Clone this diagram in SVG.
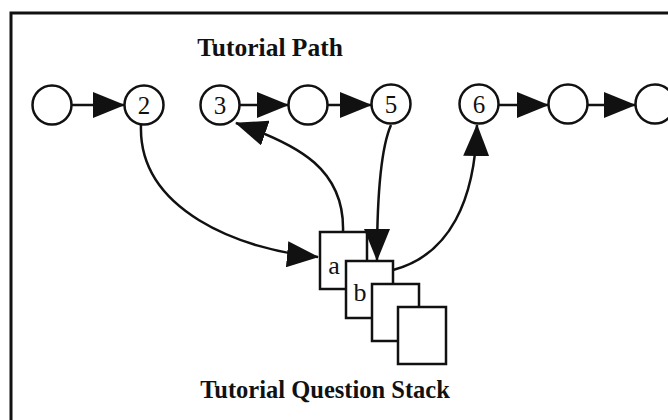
<svg xmlns="http://www.w3.org/2000/svg" width="668" height="420" viewBox="0 0 668 420">
<style>
.n{fill:#fff;stroke:#111;stroke-width:2.5}
.b{fill:#fff;stroke:#111;stroke-width:2.5}
.c{fill:none;stroke:#111;stroke-width:2.5}
.t{font-family:"Liberation Serif","Times New Roman",serif;fill:#111;text-anchor:middle}
.num{font-size:25px}
.lbl{font-size:26px}
.title{font-weight:bold}
</style>
<defs>
<marker id="ah" markerUnits="userSpaceOnUse" markerWidth="32" markerHeight="26" refX="31" refY="13" orient="auto">
<path d="M0,0 L32,13 L0,26 z" fill="#111"/>
</marker>
</defs>
<rect x="0" y="0" width="668" height="420" fill="#fff"/>
<rect x="11" y="13" width="720" height="420" fill="none" stroke="#111" stroke-width="3"/>
<text class="t title" x="270" y="56" font-size="25.5">Tutorial Path</text>
<text class="t title" x="325" y="398" font-size="24.5">Tutorial Question Stack</text>

<g id="carda"><rect class="b" x="320" y="232" width="47" height="57"/><text class="t lbl" x="334" y="274">a</text></g>
<g id="cardb"><rect class="b" x="346" y="261" width="47" height="57"/><text class="t lbl" x="360" y="301">b</text></g>
<g id="card3"><rect class="b" x="372" y="284" width="47" height="57"/></g>
<g id="card4"><rect class="b" x="398" y="307" width="48" height="57"/></g>

<g id="connectors">
<line class="c" x1="72" y1="105" x2="124" y2="105" marker-end="url(#ah)"/>
<line class="c" x1="240" y1="105" x2="288" y2="105" marker-end="url(#ah)"/>
<line class="c" x1="328" y1="105" x2="371" y2="105" marker-end="url(#ah)"/>
<line class="c" x1="499" y1="105" x2="548" y2="105" marker-end="url(#ah)"/>
<line class="c" x1="588" y1="105" x2="635" y2="105" marker-end="url(#ah)"/>
<path class="c" d="M141,125 C138,210 240,250 318,257" marker-end="url(#ah)"/>
<path class="c" d="M343,232 C345,170 300,145 236,123" marker-end="url(#ah)"/>
<path class="c" d="M391,125 C380,150 377,200 377,260" marker-end="url(#ah)"/>
<path class="c" d="M393,270 C450,255 475,200 477,125" marker-end="url(#ah)"/>
</g>

<g id="node1"><circle class="n" cx="52" cy="105" r="19.5"/></g>
<g id="node2"><circle class="n" cx="144" cy="105" r="19.5"/><text class="t num" x="144" y="114">2</text></g>
<g id="node3"><circle class="n" cx="220" cy="105" r="19.5"/><text class="t num" x="220" y="114">3</text></g>
<g id="node4"><circle class="n" cx="308" cy="105" r="19.5"/></g>
<g id="node5"><circle class="n" cx="391" cy="104" r="19.5"/><text class="t num" x="391" y="113">5</text></g>
<g id="node6"><circle class="n" cx="479" cy="104" r="19.5"/><text class="t num" x="479" y="113">6</text></g>
<g id="node7"><circle class="n" cx="568" cy="104" r="19.5"/></g>
<g id="node8"><circle class="n" cx="655" cy="104" r="19.5"/></g>
</svg>
